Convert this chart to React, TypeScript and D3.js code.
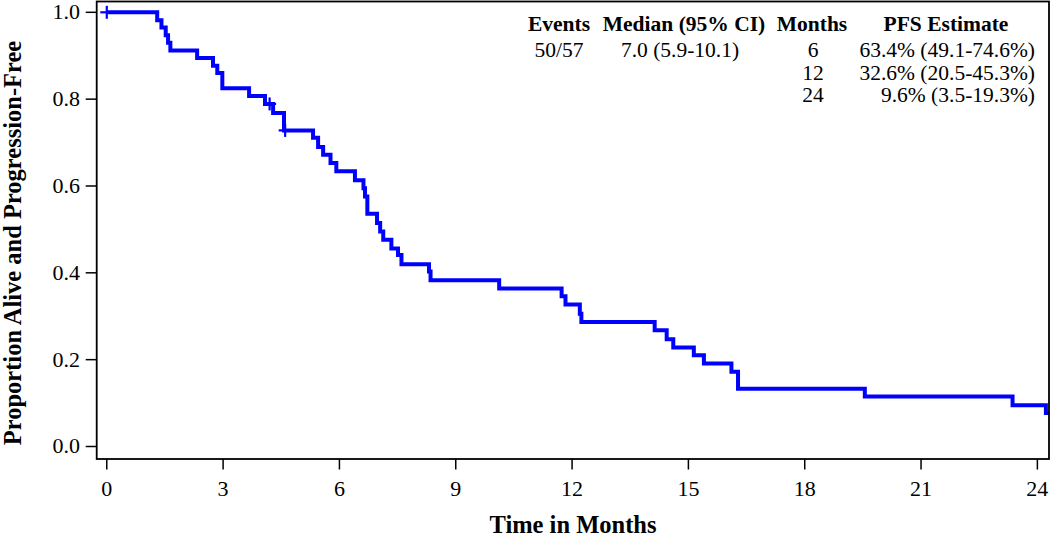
import React from "react";
import * as d3 from "d3";

const stepTimes = [0, 1.30, 1.41, 1.52, 1.58, 1.64, 2.33, 2.74, 2.85, 2.98, 3.67, 4.08, 4.29, 4.57, 5.32, 5.45, 5.58, 5.77, 5.92, 6.40, 6.62, 6.66, 6.72, 6.97, 7.05, 7.13, 7.34, 7.51, 7.60, 8.31, 8.35, 10.12, 11.73, 11.83, 12.20, 12.24, 14.13, 14.44, 14.61, 15.14, 15.40, 16.11, 16.28, 19.55, 23.36, 24.22];
const stepSurvival = [1.0, 0.982, 0.965, 0.947, 0.930, 0.912, 0.895, 0.877, 0.860, 0.825, 0.807, 0.789, 0.768, 0.728, 0.711, 0.690, 0.672, 0.653, 0.634, 0.613, 0.595, 0.576, 0.536, 0.515, 0.495, 0.476, 0.456, 0.441, 0.420, 0.403, 0.383, 0.364, 0.346, 0.327, 0.306, 0.287, 0.268, 0.247, 0.228, 0.210, 0.191, 0.172, 0.133, 0.115, 0.095, 0.077];
const censorTimes = [0, 4.2, 4.6];
const censorSurvival = [1.0, 0.789, 0.728];

const xTicks = [0, 3, 6, 9, 12, 15, 18, 21, 24];
const yTicks = [0, 0.2, 0.4, 0.6, 0.8, 1.0];

const tableHeaders = ["Events", "Median (95% CI)", "Months", "PFS Estimate"];
const eventsText = ["50/57"];
const medianText = ["7.0 (5.9-10.1)"];
const monthsText = ["6", "12", "24"];
const pfsText = ["63.4% (49.1-74.6%)", "32.6% (20.5-45.3%)", "9.6% (3.5-19.3%)"];

const X_MIN = -0.26, X_MAX = 24.3;
const Y_MIN = -0.0288, Y_MAX = 1.0249;

export default function App() {
  const left = 96.7, right = 1049, top = 1.5, bottom = 459;
  const x = d3.scaleLinear().domain([X_MIN, X_MAX]).range([left, right]);
  const y = d3.scaleLinear().domain([Y_MIN, Y_MAX]).range([bottom, top]);

  const pts: [number, number][] = stepTimes.map((t, i) => [t, stepSurvival[i]]);
  pts.push([X_MAX, stepSurvival[stepSurvival.length - 1]]);
  const line = d3.line<[number, number]>()
    .x(d => x(d[0]))
    .y(d => y(d[1]))
    .curve(d3.curveStepAfter);

  const font = "'Liberation Serif', 'Times New Roman', serif";
  const rowY = [57, 79.5, 102];

  return (
    <svg width={1050} height={540} style={{ position: "absolute", left: 0, top: 0, background: "#fff" }}
      fontFamily={font}>
      <rect x={0} y={0} width={1050} height={540} fill="#fff" />
      <defs>
        <clipPath id="plotclip">
          <rect x={left} y={top} width={right - left} height={bottom - top} />
        </clipPath>
      </defs>
      {/* curve */}
      <path d={line(pts) || ""} fill="none" stroke="#0000ff" strokeWidth={4} clipPath="url(#plotclip)" />
      {censorTimes.map((t, i) => (
        <g key={i} stroke="#0000ff" strokeWidth={2.2}>
          <line x1={x(t)} x2={x(t)} y1={y(censorSurvival[i]) - 6.5} y2={y(censorSurvival[i]) + 6.5} />
          <line x1={x(t) - 6.5} x2={x(t) + 6.5} y1={y(censorSurvival[i])} y2={y(censorSurvival[i])} />
        </g>
      ))}
      {/* frame */}
      <rect x={left} y={top} width={right - left} height={bottom - top} fill="none" stroke="#000" strokeWidth={1.8} />
      {/* x axis */}
      {xTicks.map(t => (
        <g key={t}>
          <line x1={x(t)} x2={x(t)} y1={bottom} y2={bottom + 10.5} stroke="#000" strokeWidth={1.5} />
          <text x={x(t)} y={496} textAnchor="middle" fontSize={22} fill="#000">{t}</text>
        </g>
      ))}
      {/* y axis */}
      {yTicks.map(t => (
        <g key={t}>
          <line x1={left - 11} x2={left} y1={y(t)} y2={y(t)} stroke="#000" strokeWidth={1.5} />
          <text x={80} y={y(t) + 7} textAnchor="end" fontSize={22} fill="#000">{t.toFixed(1)}</text>
        </g>
      ))}
      <text x={573} y={533} textAnchor="middle" fontSize={24.5} fontWeight="bold" fill="#000">Time in Months</text>
      <text transform={`translate(21,243) rotate(-90)`} textAnchor="middle" fontSize={24.5} fontWeight="bold" fill="#000">
        Proportion Alive and Progression-Free
      </text>
      {/* table */}
      <g fontSize={21.5} fill="#000">
        <text x={559} y={31} textAnchor="middle" fontWeight="bold">{tableHeaders[0]}</text>
        <text x={684} y={31} textAnchor="middle" fontWeight="bold">{tableHeaders[1]}</text>
        <text x={812} y={31} textAnchor="middle" fontWeight="bold">{tableHeaders[2]}</text>
        <text x={946} y={31} textAnchor="middle" fontWeight="bold">{tableHeaders[3]}</text>
        {eventsText.map((s, i) => <text key={"e" + i} x={559} y={rowY[i]} textAnchor="middle">{s}</text>)}
        {medianText.map((s, i) => <text key={"m" + i} x={680} y={rowY[i]} textAnchor="middle">{s}</text>)}
        {monthsText.map((s, i) => <text key={"mo" + i} x={813} y={rowY[i]} textAnchor="middle">{s}</text>)}
        {pfsText.map((s, i) => <text key={"p" + i} x={1035} y={rowY[i]} textAnchor="end">{s}</text>)}
      </g>
    </svg>
  );
}
